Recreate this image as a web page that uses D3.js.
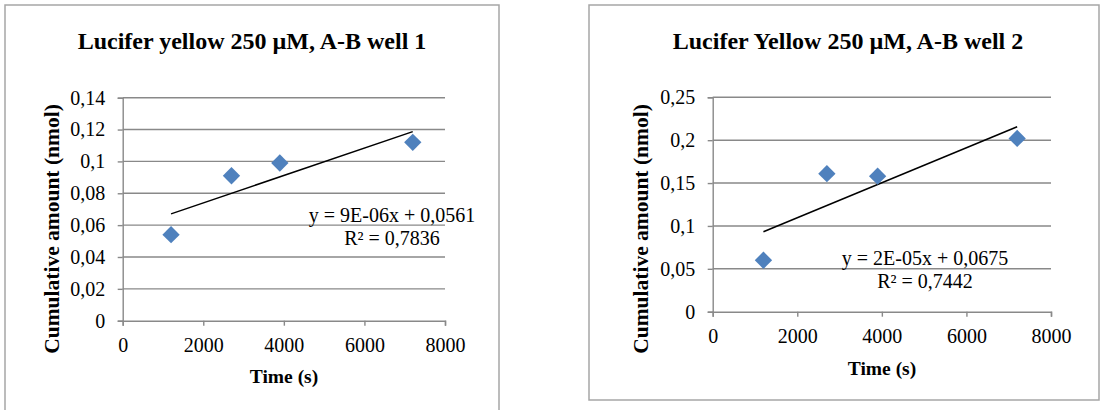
<!DOCTYPE html>
<html>
<head>
<meta charset="utf-8">
<script src="https://cdn.jsdelivr.net/npm/d3@7"></script>
<style>
  body { margin: 0; background: #fff; }
  svg { display: block; }
  text { font-family: "Liberation Serif", "Times New Roman", serif; fill: #000; }
</style>
</head>
<body>
<svg id="chart" width="1114" height="410"></svg>
<script>
// sample times (s), same for both wells
const timeS = [1200, 2700, 3900, 7200];
// cumulative amount (nmol)
const well1Amount = [0.054, 0.091, 0.099, 0.112];
const well2Amount = [0.060, 0.161, 0.158, 0.202];

const xTicks = [0, 2000, 4000, 6000, 8000];
const well1YTicks = [0, 0.02, 0.04, 0.06, 0.08, 0.1, 0.12, 0.14];
const well2YTicks = [0, 0.05, 0.1, 0.15, 0.2, 0.25];

const titles = ["Lucifer yellow 250 µM, A-B well 1", "Lucifer Yellow 250 µM, A-B well 2"];
const equations = ["y = 9E-06x + 0,0561", "y = 2E-05x + 0,0675"];
const rSquared = ["R² = 0,7836", "R² = 0,7442"];

const svg = d3.select("#chart");
const fmt = d => String(d).replace(".", ",");
const serif = "'Liberation Serif', 'Times New Roman', serif";

// least squares fit, like Excel's linear trendline
function linearFit(xs, ys) {
    const mx = d3.mean(xs), my = d3.mean(ys);
    const sxy = d3.sum(xs, (x, i) => (x - mx) * (ys[i] - my));
    const sxx = d3.sum(xs, x => (x - mx) * (x - mx));
    const slope = sxy / sxx;
    return { slope, intercept: my - slope * mx };
}

function drawChart(c) {
    const g = svg.append("g");

    // outer chart frame
    g.append("rect")
        .attr("x", c.frame[0]).attr("y", c.frame[1])
        .attr("width", c.frame[2]).attr("height", c.frame[3])
        .attr("fill", "#fff")
        .attr("stroke", "#a6a6a6")
        .attr("stroke-width", 1.5);

    const x = d3.scaleLinear().domain([0, 8000]).range([c.left, c.right]);
    const y = d3.scaleLinear().domain([0, d3.max(c.yTicks)]).range([c.bottom, c.top]);

    // horizontal gridlines
    g.append("g")
        .selectAll("line")
        .data(c.yTicks.filter(t => t > 0))
        .join("line")
        .attr("x1", c.left).attr("x2", c.right)
        .attr("y1", d => y(d)).attr("y2", d => y(d))
        .attr("stroke", "#898989")
        .attr("stroke-width", 1.4);

    const yAxis = g.append("g")
        .attr("transform", `translate(${c.left},0)`)
        .call(d3.axisLeft(y).tickValues(c.yTicks).tickFormat(fmt).tickSize(5).tickPadding(12.5));

    const xAxis = g.append("g")
        .attr("transform", `translate(0,${c.bottom})`)
        .call(d3.axisBottom(x).tickValues(xTicks).tickFormat(d => d).tickSize(5).tickPadding(12));

    [yAxis, xAxis].forEach(a => {
        a.select(".domain").attr("stroke", "#898989").attr("stroke-width", 1.4);
        a.selectAll(".tick line").attr("stroke", "#898989").attr("stroke-width", 1.4);
        a.selectAll("text")
            .style("font-family", serif)
            .style("font-size", "20px")
            .attr("fill", "#000");
    });

    // trendline across the data range
    const fit = linearFit(timeS, c.values);
    const xExt = d3.extent(timeS);
    g.append("line")
        .attr("x1", x(xExt[0])).attr("y1", y(fit.intercept + fit.slope * xExt[0]))
        .attr("x2", x(xExt[1])).attr("y2", y(fit.intercept + fit.slope * xExt[1]))
        .attr("stroke", "#000")
        .attr("stroke-width", 1.5);

    // diamond markers
    g.append("g")
        .selectAll("path")
        .data(timeS.map((t, i) => [t, c.values[i]]))
        .join("path")
        .attr("d", d3.symbol(d3.symbolSquare, 150))
        .attr("transform", d => `translate(${x(d[0])},${y(d[1])}) rotate(45)`)
        .attr("fill", "#4f81bd");

    // trendline label
    g.append("text")
        .attr("x", c.eqX).attr("y", c.eqY)
        .attr("text-anchor", "middle")
        .style("font-size", "20px")
        .text(c.equation);
    g.append("text")
        .attr("x", c.eqX).attr("y", c.eqY + 23)
        .attr("text-anchor", "middle")
        .style("font-size", "20px")
        .text(c.r2);

    g.append("text")
        .attr("x", c.titleX).attr("y", 49)
        .attr("text-anchor", "middle")
        .style("font-size", "24px")
        .style("font-weight", "bold")
        .text(c.title);

    g.append("text")
        .attr("transform", `translate(${c.yLabelX},${c.yLabelY}) rotate(-90)`)
        .attr("text-anchor", "middle")
        .style("font-size", "21.5px")
        .style("font-weight", "bold")
        .text("Cumulative amount (nmol)");

    g.append("text")
        .attr("x", c.xLabelX).attr("y", c.xLabelY)
        .attr("text-anchor", "middle")
        .style("font-size", "19.5px")
        .style("font-weight", "bold")
        .text("Time (s)");
}

drawChart({
    frame: [5, 5, 494, 420],
    left: 122.7, right: 445, top: 97.7, bottom: 320.7,
    yTicks: well1YTicks, values: well1Amount,
    title: titles[0], titleX: 252,
    equation: equations[0], r2: rSquared[0], eqX: 392, eqY: 222,
    yLabelX: 59, yLabelY: 229, xLabelX: 284, xLabelY: 383
});

drawChart({
    frame: [589, 5, 510, 395],
    left: 712.7, right: 1051, top: 97.3, bottom: 311.7,
    yTicks: well2YTicks, values: well2Amount,
    title: titles[1], titleX: 848,
    equation: equations[1], r2: rSquared[1], eqX: 925, eqY: 265,
    yLabelX: 648, yLabelY: 229, xLabelX: 882, xLabelY: 375
});
</script>
</body>
</html>
